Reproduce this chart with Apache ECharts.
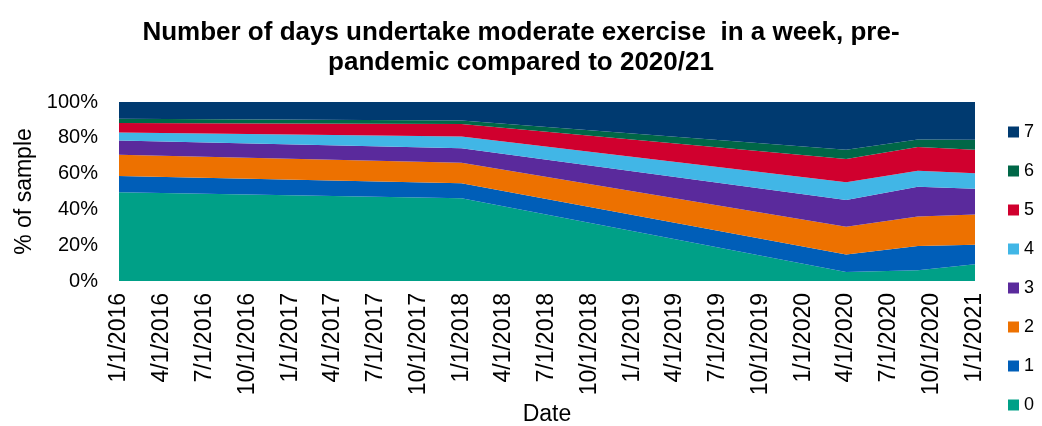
<!DOCTYPE html>
<html>
<head>
<meta charset="utf-8">
<script src="https://cdn.jsdelivr.net/npm/echarts@6/dist/echarts.min.js"></script>
<style>
  html, body { margin: 0; padding: 0; background: #fff; }
  #chart { width: 1042px; height: 426px; }
</style>
</head>
<body>
<div id="chart"></div>
<script>
// quarterly tick labels on the date axis
const tickLabels = ['1/1/2016', '4/1/2016', '7/1/2016', '10/1/2016', '1/1/2017', '4/1/2017', '7/1/2017', '10/1/2017',
  '1/1/2018', '4/1/2018', '7/1/2018', '10/1/2018', '1/1/2019', '4/1/2019', '7/1/2019', '10/1/2019',
  '1/1/2020', '4/1/2020', '7/1/2020', '10/1/2020', '1/1/2021'];
// survey dates
const pointDates = ['1/1/2016', '1/1/2018', '4/1/2020', '9/1/2020', '1/1/2021'];

const days0 = [49.6, 46.2, 5.0, 6.0, 9.4];
const days1 = [9.1, 8.4, 9.8, 13.5, 10.9];
const days2 = [11.8, 11.5, 15.5, 16.6, 16.9];
const days3 = [8.0, 8.1, 14.9, 16.6, 14.4];
const days4 = [4.5, 6.5, 10.0, 8.9, 8.6];
const days5 = [5.2, 7.0, 13.0, 13.2, 13.1];
const days6 = [2.4, 2.0, 5.1, 4.2, 5.6];
const days7 = [9.4, 10.3, 26.7, 21.0, 21.1];

const names = ['0', '1', '2', '3', '4', '5', '6', '7'];
const values = [days0, days1, days2, days3, days4, days5, days6, days7];
const colors = ['#00a087', '#005eb8', '#ed7100', '#5a2a9c', '#41b6e6', '#d0002e', '#006747', '#003a70'];

function toTime(s) {
  const p = s.split('/').map(Number);
  return Date.UTC(p[2], p[0] - 1, p[1]);
}
function fmt(t) {
  const d = new Date(t);
  return (d.getUTCMonth() + 1) + '/' + d.getUTCDate() + '/' + d.getUTCFullYear();
}

const tickTimes = tickLabels.map(toTime);
const chart = echarts.init(document.getElementById('chart'));
const font = 'Liberation Sans, Arial, sans-serif';

// value first so the stack is applied to y, date second
const series = names.map((n, i) => ({
  name: n,
  type: 'line',
  stack: 'total',
  symbol: 'none',
  encode: { x: 1, y: 0 },
  lineStyle: { width: 0 },
  areaStyle: { color: colors[i], opacity: 1 },
  itemStyle: { color: colors[i] },
  data: values[i].map((v, j) => [v, toTime(pointDates[j])])
}));

const option = {
  animation: false,
  textStyle: { fontFamily: font },
  title: {
    text: 'Number of days undertake moderate exercise  in a week, pre-\npandemic compared to 2020/21',
    left: 516,
    textAlign: 'center',
    top: 13,
    textStyle: { fontSize: 26, fontWeight: 'bold', color: '#000', lineHeight: 30, fontFamily: font }
  },
  legend: {
    orient: 'vertical',
    left: 1003,
    top: 118,
    itemWidth: 11,
    itemHeight: 11,
    itemGap: 21,
    icon: 'rect',
    data: names.slice().reverse(),
    textStyle: { fontSize: 18, color: '#000', fontFamily: font }
  },
  grid: { left: 119, right: 67, top: 102, bottom: 145, outerBoundsMode: 'none' },
  xAxis: {
    type: 'value',
    min: tickTimes[0],
    max: tickTimes[tickTimes.length - 1],
    name: 'Date',
    nameLocation: 'middle',
    nameGap: 122,
    nameTextStyle: { fontSize: 23, color: '#000' },
    axisLine: { show: false },
    axisTick: { show: false },
    splitLine: { show: false },
    axisLabel: {
      customValues: tickTimes,
      rotate: 90,
      fontSize: 23,
      color: '#000',
      margin: 12,
      formatter: (v) => fmt(v)
    }
  },
  yAxis: {
    type: 'value',
    min: 0,
    max: 100,
    interval: 20,
    name: '% of sample',
    nameLocation: 'middle',
    nameGap: 83,
    nameTextStyle: { fontSize: 23, color: '#000' },
    axisLine: { show: false },
    axisTick: { show: false },
    splitLine: { show: false },
    axisLabel: { fontSize: 20, color: '#000', margin: 21, formatter: '{value}%' }
  },
  series: series
};

chart.setOption(option);
</script>
</body>
</html>
